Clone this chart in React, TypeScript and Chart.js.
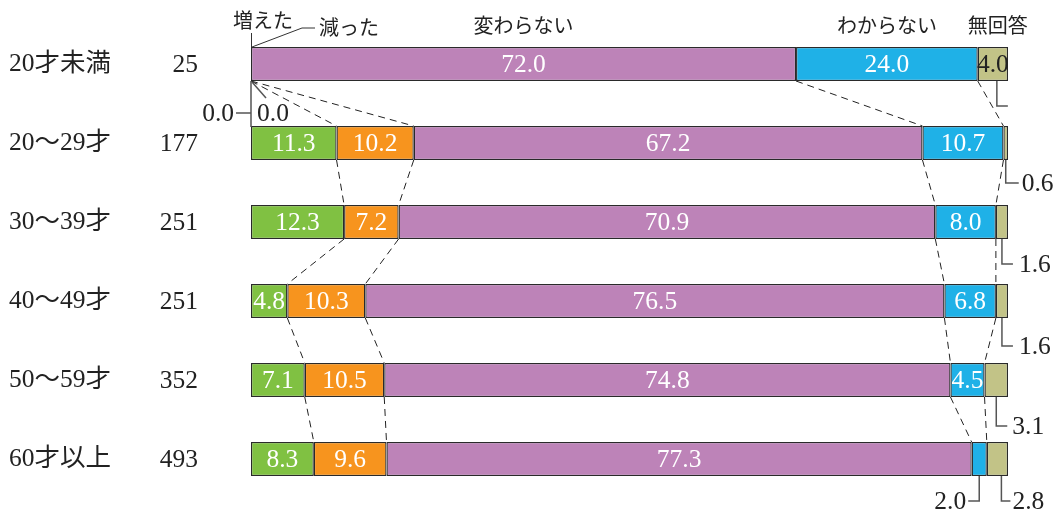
import React, { useEffect, useRef } from "react";
import { Chart, registerables } from "chart.js";

Chart.register(...registerables);

const categories = ["20才未満", "20〜29才", "30〜39才", "40〜49才", "50〜59才", "60才以上"];
const sampleSizes = [25, 177, 251, 251, 352, 493];
const seriesNames = ["増えた", "減った", "変わらない", "わからない", "無回答"];
const increased = [0.0, 11.3, 12.3, 4.8, 7.1, 8.3];
const decreased = [0.0, 10.2, 7.2, 10.3, 10.5, 9.6];
const unchanged = [72.0, 67.2, 70.9, 76.5, 74.8, 77.3];
const unknown = [24.0, 10.7, 8.0, 6.8, 4.5, 2.0];
const noAnswer = [4.0, 0.6, 1.6, 1.6, 3.1, 2.8];

const seriesValues = [increased, decreased, unchanged, unknown, noAnswer];
const seriesColors = ["#80c142", "#f7941e", "#bd83b8", "#1fb1e7", "#c2c387"];
const insideTextColors = ["#ffffff", "#ffffff", "#ffffff", "#ffffff", "#222222"];

// leader-line labels for small segments (row, segment, polylines relative to segment centre / bar bottom, text offset)
const leaders = [
  { row: 0, seg: 0, lines: [[[0, 0], [0, 46]], [[0, 32], [-15, 32]]], text: [-17, 32, "right"] },
  { row: 0, seg: 1, lines: [[[1, 1], [15, 17]]], text: [6, 32, "left"] },
  { row: 0, seg: 4, lines: [[[4, 0], [4, 25], [15, 25]]], text: null },
  { row: 1, seg: 4, lines: [[[0, 0], [0, 23], [13, 23]]], text: [16, 23, "left"] },
  { row: 2, seg: 4, lines: [[[0, 0], [0, 25], [11, 25]]], text: [17, 25, "left"] },
  { row: 3, seg: 4, lines: [[[0, 0], [0, 28], [11, 28]]], text: [17, 28, "left"] },
  { row: 4, seg: 4, lines: [[[0, 0], [0, 29], [11, 29]]], text: [16, 29, "left"] },
  { row: 5, seg: 4, lines: [[[4, 0], [4, 25], [13, 25]]], text: [15, 25, "left"] },
  { row: 5, seg: 3, lines: [[[0, 0], [0, 25], [-11, 25]]], text: [-13, 25, "right"] },
];

const BAR_THICKNESS = 34;
const NUM_FONT = "25.5px 'Liberation Serif', 'Noto Sans CJK JP', serif";
const CAT_FONT = "25.5px 'Liberation Serif', 'Noto Sans CJK JP', serif";
const HEAD_FONT = "20px 'Noto Sans CJK JP', sans-serif";

const overlayPlugin = {
  id: "overlay",
  afterDatasetsDraw(chart: any) {
    const ctx = chart.ctx;
    const xs = chart.scales.x;
    const ys = chart.scales.y;
    const half = BAR_THICKNESS / 2;
    const cum = (row: number, k: number) => {
      let s = 0;
      for (let j = 0; j < k; j++) s += seriesValues[j][row];
      return s;
    };
    const segCenter = (row: number, seg: number) =>
      xs.getPixelForValue(cum(row, seg) + seriesValues[seg][row] / 2);

    ctx.save();
    // category labels & sample sizes
    ctx.fillStyle = "#222";
    ctx.textBaseline = "middle";
    categories.forEach((c, i) => {
      const y = ys.getPixelForValue(i);
      ctx.font = CAT_FONT;
      ctx.textAlign = "left";
      ctx.fillText(c, 9, y);
      ctx.textAlign = "right";
      ctx.font = NUM_FONT;
      ctx.fillText(String(sampleSizes[i]), 198, y + 1);
    });

    // dashed connectors
    ctx.strokeStyle = "#222";
    ctx.lineWidth = 1;
    ctx.setLineDash([7, 5]);
    for (let i = 0; i < categories.length - 1; i++) {
      const yb = ys.getPixelForValue(i) + half;
      const yt = ys.getPixelForValue(i + 1) - half;
      for (let k = 1; k <= 4; k++) {
        ctx.beginPath();
        ctx.moveTo(xs.getPixelForValue(cum(i, k)), yb);
        ctx.lineTo(xs.getPixelForValue(cum(i + 1, k)), yt);
        ctx.stroke();
      }
    }
    ctx.setLineDash([]);

    // inside labels
    ctx.font = NUM_FONT;
    ctx.textAlign = "center";
    for (let s = 0; s < seriesValues.length; s++) {
      for (let i = 0; i < categories.length; i++) {
        const v = seriesValues[s][i];
        if (v < 3.5) continue;
        ctx.fillStyle = insideTextColors[s];
        ctx.fillText(v.toFixed(1), segCenter(i, s), ys.getPixelForValue(i) + 1);
      }
    }

    // leaders
    ctx.strokeStyle = "#555";
    ctx.lineWidth = 1.5;
    ctx.fillStyle = "#222";
    leaders.forEach((l) => {
      const ax = segCenter(l.row, l.seg);
      const ay = ys.getPixelForValue(l.row) + half;
      l.lines.forEach((pl: any) => {
        ctx.beginPath();
        pl.forEach((p: number[], j: number) => {
          if (j === 0) ctx.moveTo(ax + p[0], ay + p[1]);
          else ctx.lineTo(ax + p[0], ay + p[1]);
        });
        ctx.stroke();
      });
      if (l.text) {
        ctx.textAlign = l.text[2] as CanvasTextAlign;
        ctx.fillText(seriesValues[l.seg][l.row].toFixed(1), ax + (l.text[0] as number), ay + (l.text[1] as number) + 1);
      }
    });

    // headers
    const top0 = ys.getPixelForValue(0) - half;
    const x0 = xs.getPixelForValue(0);
    ctx.font = HEAD_FONT;
    ctx.fillStyle = "#222";
    ctx.textAlign = "left";
    ctx.fillText(seriesNames[0], 233, 20);
    ctx.fillText(seriesNames[1], 319, 27);
    ctx.strokeStyle = "#333";
    ctx.lineWidth = 1;
    ctx.beginPath();
    ctx.moveTo(x0 + 0.5, 33);
    ctx.lineTo(x0 + 0.5, top0);
    ctx.stroke();
    ctx.beginPath();
    ctx.moveTo(x0 + 1, top0);
    ctx.lineTo(302, 28);
    ctx.lineTo(315, 28);
    ctx.stroke();
    ctx.textAlign = "center";
    ctx.fillText(seriesNames[2], segCenter(0, 2), 25);
    ctx.fillText(seriesNames[3], segCenter(0, 3), 25);
    ctx.fillText(seriesNames[4], segCenter(0, 4) + 5, 25);
    ctx.restore();
  },
};

export default function App() {
  const ref = useRef<HTMLCanvasElement>(null);
  useEffect(() => {
    if (!ref.current) return;
    const chart = new Chart(ref.current, {
      type: "bar",
      data: {
        labels: categories,
        datasets: seriesValues.map((vals, s) => ({
          label: seriesNames[s],
          data: vals,
          backgroundColor: seriesColors[s],
          borderColor: "#2a2a2a",
          borderWidth: 1.3,
          borderSkipped: false,
          barThickness: BAR_THICKNESS,
          inflateAmount: 0,
        })),
      },
      options: {
        indexAxis: "y",
        responsive: false,
        animation: false,
        layout: { padding: { left: 251, right: 50, top: 24.5, bottom: 18.5 } },
        plugins: { legend: { display: false }, tooltip: { enabled: false } },
        scales: {
          x: { stacked: true, min: 0, max: 100, display: false },
          y: { stacked: true, display: false },
        },
      },
      plugins: [overlayPlugin],
    } as any);
    return () => chart.destroy();
  }, []);
  return (
    <div style={{ position: "absolute", left: 0, top: 0, width: 1058, height: 517, background: "#fff" }}>
      <canvas ref={ref} width={1058} height={517} style={{ display: "block" }} />
    </div>
  );
}
